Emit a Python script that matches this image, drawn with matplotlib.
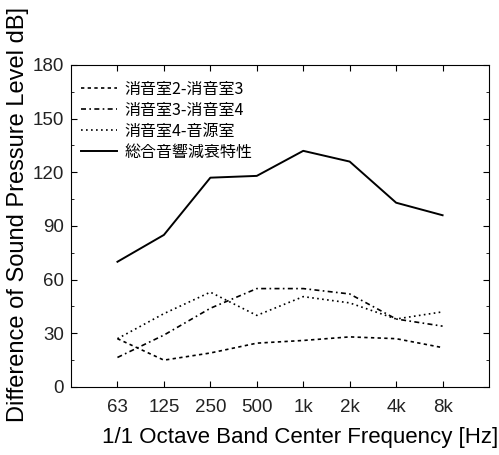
import matplotlib.pyplot as plt
from matplotlib.ticker import MultipleLocator

freqs = ["63", "125", "250", "500", "1k", "2k", "4k", "8k"]
room_2_3 = [27, 15, 19, 24.5, 26, 28, 27, 22]
room_3_4 = [16.5, 29, 44, 55, 55, 52, 38, 34]
room_4_src = [27, 41, 53, 40, 50.5, 47, 38, 42]
total = [70, 85, 117, 118, 132, 126, 103, 96]

labels = ["消音室2-消音室3", "消音室3-消音室4", "消音室4-音源室", "総合音響減衰特性"]
jp = ["Noto Sans CJK JP", "DejaVu Sans"]
narrow = ["Liberation Sans Narrow", "Liberation Sans", "DejaVu Sans"]

fig = plt.figure(figsize=(4.99, 4.55), dpi=100)
ax = fig.add_axes([0.1423, 0.1495, 0.8377, 0.7077])

x = range(len(freqs))
ax.plot(x, room_2_3, color="black", lw=1.2, ls=(0, (2, 2)), label=labels[0])
ax.plot(x, room_3_4, color="black", lw=1.2, ls=(0, (3, 2, 1, 2)), label=labels[1])
ax.plot(x, room_4_src, color="black", lw=1.2, ls=(0, (1, 2)), label=labels[2])
ax.plot(x, total, color="black", lw=1.4, label=labels[3])

ax.set_xlim(-1, 8)
ax.set_ylim(0, 180)
ax.set_xticks(list(x))
ax.set_xticklabels(freqs, family=narrow, fontsize=13.5, color="#222222")
ax.yaxis.set_major_locator(MultipleLocator(30))
ax.yaxis.set_minor_locator(MultipleLocator(15))
for t in ax.get_yticklabels():
    t.set_family(narrow)
    t.set_fontsize(13.5)
    t.set_color("#222222")
ax.tick_params(which="both", direction="in", top=True, right=True)
ax.tick_params(which="major", length=4)
ax.tick_params(which="minor", length=2)
ax.tick_params(axis="x", pad=9)
ax.tick_params(axis="y", pad=5)

ax.set_xlabel("1/1 Octave Band Center Frequency [Hz]", family="Liberation Sans", fontsize=16)
ax.set_ylabel("Difference of Sound Pressure Level dB]", family="Liberation Sans", fontsize=17)
ax.xaxis.set_label_coords(0.548, -0.125)
ax.yaxis.set_label_coords(-0.1, 0.535)

leg = ax.legend(loc="upper left", frameon=False, prop={"family": jp, "size": 11.5},
                handlelength=2.3, handletextpad=0.45, labelspacing=0.25,
                borderaxespad=0.2, bbox_to_anchor=(0.0, 0.98))

fig.savefig("out.png", dpi=100)
